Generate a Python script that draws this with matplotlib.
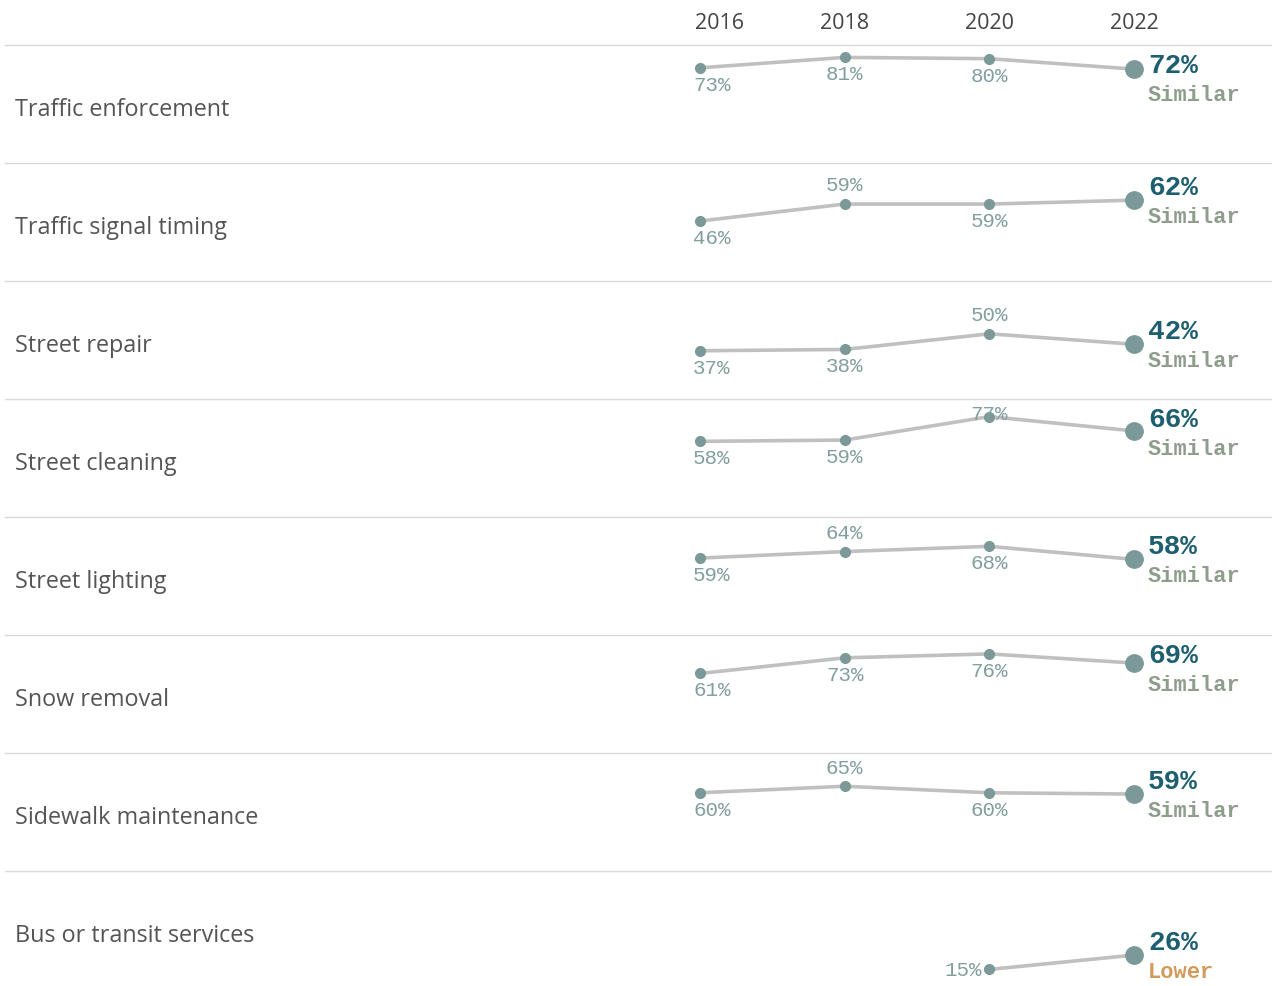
import matplotlib.pyplot as plt

# Datos
years = [2016, 2018, 2020, 2022]
categories = [
    "Traffic enforcement",
    "Traffic signal timing",
    "Street repair",
    "Street cleaning",
    "Street lighting",
    "Snow removal",
    "Sidewalk maintenance",
    "Bus or transit services",
]
traffic_enforcement = [73, 81, 80, 72]
traffic_signal_timing = [46, 59, 59, 62]
street_repair = [37, 38, 50, 42]
street_cleaning = [58, 59, 77, 66]
street_lighting = [59, 64, 68, 58]
snow_removal = [61, 73, 76, 69]
sidewalk_maintenance = [60, 65, 60, 59]
bus_transit = [None, None, 15, 26]
comparison = ["Similar"] * 7 + ["Lower"]

series = [traffic_enforcement, traffic_signal_timing, street_repair, street_cleaning,
          street_lighting, snow_removal, sidewalk_maintenance, bus_transit]

# donde va cada etiqueta pequeña
placement = [
    ["below", "below", "below"],
    ["below", "above", "below"],
    ["below", "below", "above"],
    ["below", "below", "above"],
    ["below", "above", "below"],
    ["below", "below", "below"],
    ["below", "above", "below"],
    [None, None, "left"],
]

# Estilo
W, H = 1272, 987
ROW_TOP0, ROW_H, LEFT = 46, 118, 5
X2016, X2022 = 700, 1134
YMIN, YMAX = 0, 90.5
LINE_C = "#c0c0c0"
DOT_C = "#7b9999"
SMALL_C = "#829e9e"
BIG_C = "#1d5f70"
CMP_C = {"Similar": "#8f9e8c", "Lower": "#d29b5c"}
SANS = "Open Sans"
MONO = "Liberation Mono"

px_year = (X2022 - X2016) / (years[-1] - years[0])
xlim = (years[0] - (X2016 - LEFT) / px_year, years[-1] + (W - X2022) / px_year)
ppu = ROW_H / (YMAX - YMIN)

fig = plt.figure(figsize=(W / 100, H / 100), dpi=100)

for i, (cat, vals) in enumerate(zip(categories, series)):
    top = ROW_TOP0 + i * ROW_H
    ax = fig.add_axes([LEFT / W, 1 - (top + ROW_H) / H, (W - LEFT) / W, ROW_H / H])
    ax.set_xlim(xlim)
    ax.set_ylim(YMIN, YMAX)
    ax.patch.set_alpha(0)
    for s in ["left", "right", "bottom"]:
        ax.spines[s].set_visible(False)
    ax.spines["top"].set_color("#d9d9d9")
    ax.spines["top"].set_linewidth(1.0)
    ax.set_xticks([])
    ax.set_yticks([])

    # Nombre de la categoria
    ax.text((15 - LEFT) / (W - LEFT), 1 - 70 / ROW_H, cat, transform=ax.transAxes,
            fontsize=16.8, family=SANS, color="#555555", va="baseline", ha="left")

    xs = [y for y, v in zip(years, vals) if v is not None]
    ys = [v for v in vals if v is not None]
    ax.plot(xs, ys, color=LINE_C, lw=2.6, zorder=1, clip_on=False, solid_capstyle="butt")
    ax.plot(xs[:-1], ys[:-1], "o", ms=7, color=DOT_C, zorder=2, clip_on=False)
    ax.plot(xs[-1], ys[-1], "o", ms=12.5, color=DOT_C, zorder=2, clip_on=False)

    # Etiquetas pequeñas
    for j, (yr, v) in enumerate(zip(years[:-1], vals[:-1])):
        if v is None:
            continue
        pos = placement[i][j]
        pt_px = top + (YMAX - v) * ppu
        dx, ha = 0, "center"
        if j == 0:
            dx, ha = -7, "left"
        if pos == "below":
            base = pt_px + 22
        elif pos == "above":
            base = max(pt_px - 14, top + 20)
        else:
            base = pt_px + 6
            dx, ha = -7, "right"
        ax.annotate(f"{v}%", (yr, v), xytext=(dx, pt_px - base), textcoords="offset pixels",
                    ha=ha, va="baseline", fontsize=15, family=MONO, color=SMALL_C,
                    annotation_clip=False)

    # Etiqueta 2022
    v = vals[-1]
    pt_px = top + (YMAX - v) * ppu
    base = max(pt_px - 6, top + 27)
    ax.annotate(f"{v}%", (years[-1], v), xytext=(14, pt_px - base), textcoords="offset pixels",
                ha="left", va="baseline", fontsize=20, family=MONO, weight="bold",
                color=BIG_C, annotation_clip=False)
    ax.annotate(comparison[i], (years[-1], v), xytext=(14, pt_px - base - 28),
                textcoords="offset pixels", ha="left", va="baseline", fontsize=15.8,
                family=MONO, weight="bold", color=CMP_C[comparison[i]],
                annotation_clip=False)

    if i == 0:
        # Años de cabecera
        for j, yr in enumerate(years):
            ax.annotate(str(yr), (yr, YMAX), xytext=(-5 if j == 0 else 0, 17),
                        textcoords="offset pixels", ha="left" if j == 0 else "center",
                        va="baseline", fontsize=15.5, family=SANS, color="#444444",
                        annotation_clip=False)

fig.savefig("out.png", dpi=100)
